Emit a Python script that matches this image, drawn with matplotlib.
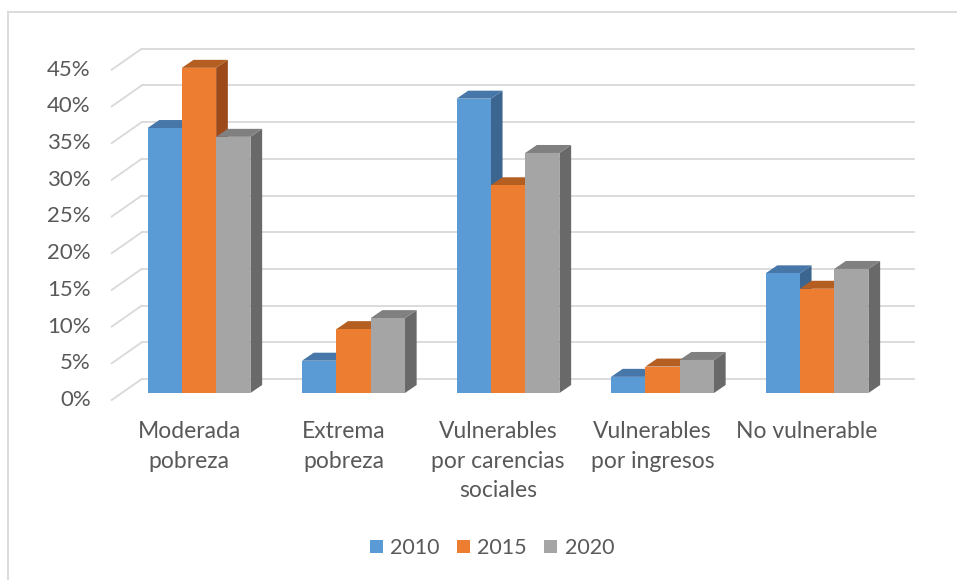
import matplotlib.pyplot as plt
from matplotlib.patches import Polygon, Patch
from matplotlib.lines import Line2D

# data (percent)
categories = ["Moderada\npobreza", "Extrema\npobreza", "Vulnerables\npor carencias\nsociales",
              "Vulnerables\npor ingresos", "No vulnerable"]
years = ["2010", "2015", "2020"]
v2010 = [36.1, 4.4, 40.1, 2.2, 16.3]
v2015 = [44.3, 8.7, 28.3, 3.6, 14.2]
v2020 = [34.9, 10.2, 32.7, 4.5, 16.9]
yticks = [0, 5, 10, 15, 20, 25, 30, 35, 40, 45]

front_cols = ["#5B9BD5", "#ED7D31", "#A5A5A5"]
top_cols = ["#4677A8", "#B45E22", "#808080"]
side_cols = ["#3C6690", "#9C4A1A", "#696969"]
txt = "#595959"
grid = "#D9D9D9"

plt.rcParams['font.family'] = ['Lato', 'DejaVu Sans']

W, H = 957, 580
fig = plt.figure(figsize=(W / 100, H / 100), dpi=100)
ax = fig.add_axes([0, 0, 1, 1])

# pixel scale of the plot: one category = 154.5 px, 1% = 7.34 px
px_x = 154.5
px_y = 7.34
x0_px, y0_px = 199, 393
ax.set_xlim((0 - x0_px) / px_x, (W - x0_px) / px_x)
ax.set_ylim((y0_px - H) / px_y, y0_px / px_y)
ax.axis("off")

# 3d offsets (in data units)
bw = 34.3 / px_x
ddx, ddy = 11.7 / px_x, 8 / px_y          # bar depth
fx, fy = 10 / px_x, 7 / px_y              # front edge of floor
bx, by = 20 / px_x, 14 / px_y             # back wall
left, right = -0.5, len(categories) - 0.5

# back wall gridlines + diagonals on the left wall
for t in yticks:
    ax.plot([left - fx, left + bx], [t - fy, t + by], color=grid, lw=1.3, zorder=1)
    ax.plot([left + bx, right + bx], [t + by, t + by], color=grid, lw=1.3, zorder=1)
    ax.text(left - fx - 21 / px_x, t - fy, f"{t}%", ha="right", va="center",
            fontsize=16, color=txt)

series = [v2010, v2015, v2020]
z = 2
for i in range(len(categories)):
    for j, vals in enumerate(series):
        h = vals[i]
        xl = i + (j - 1.5) * bw
        xr = xl + bw
        side = Polygon([(xr, 0), (xr + ddx, ddy), (xr + ddx, h + ddy), (xr, h)],
                       closed=True, facecolor=side_cols[j], edgecolor="none", zorder=z)
        top = Polygon([(xl, h), (xr, h), (xr + ddx, h + ddy), (xl + ddx, h + ddy)],
                      closed=True, facecolor=top_cols[j], edgecolor="none", zorder=z)
        ax.add_patch(side)
        ax.add_patch(top)
        ax.bar(xl, h, width=bw, align="edge", color=front_cols[j], zorder=z + 1)
        z += 2

for i, c in enumerate(categories):
    ax.text(i - fx, (y0_px - 421) / px_y, c, ha="center", va="top", fontsize=16.5,
            color=txt, linespacing=1.5)

# chart border
fig.add_artist(Line2D([8 / W, 1], [1 - 12 / H, 1 - 12 / H], color=grid, lw=1.3))
fig.add_artist(Line2D([8 / W, 8 / W], [0, 1 - 12 / H], color=grid, lw=1.3))

handles = [Patch(facecolor=c, edgecolor="none") for c in front_cols]
fig.legend(handles, years, loc="center", bbox_to_anchor=(492 / W, 1 - 548 / H), ncol=3,
           frameon=False, fontsize=15.5, handlelength=0.6, handleheight=0.6,
           handletextpad=0.35, columnspacing=0.8, labelcolor=txt)

plt.savefig("out.png", dpi=100)
